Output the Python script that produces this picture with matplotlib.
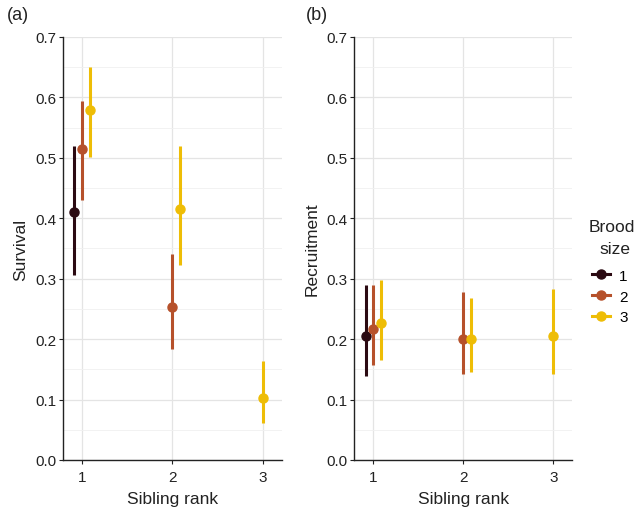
import numpy as np
import matplotlib
matplotlib.use('Agg')
import matplotlib.pyplot as plt
from matplotlib.lines import Line2D

plt.rcParams['font.family'] = ['Liberation Sans', 'DejaVu Sans']

# data: (sibling rank, brood size, estimate, lower, upper)
brood_sizes = [1, 2, 3]
colors = ['#2b0a12', '#b6512b', '#eebd06']
step = 0.085

surv_rank = [1, 1, 1, 2, 2, 3]
surv_brood = [1, 2, 3, 2, 3, 3]
surv_est = [0.410, 0.514, 0.579, 0.254, 0.415, 0.103]
surv_lo = [0.306, 0.430, 0.502, 0.184, 0.322, 0.062]
surv_hi = [0.520, 0.594, 0.650, 0.341, 0.520, 0.163]

recr_rank = [1, 1, 1, 2, 2, 3]
recr_brood = [1, 2, 3, 2, 3, 3]
recr_est = [0.205, 0.217, 0.227, 0.201, 0.201, 0.205]
recr_lo = [0.139, 0.157, 0.165, 0.142, 0.145, 0.142]
recr_hi = [0.290, 0.289, 0.298, 0.278, 0.268, 0.283]

yticks = np.round(np.arange(0, 0.71, 0.1), 1)
yminor = np.round(np.arange(0.05, 0.7, 0.1), 2)

fig = plt.figure(figsize=(6.4, 5.1), dpi=100)
ax_a = fig.add_axes([0.0984, 0.0961, 0.3422, 0.8294])
ax_b = fig.add_axes([0.5536, 0.0961, 0.3404, 0.8294])


def draw_panel(ax, rank, brood, est, lo, hi, ylabel):
    for r in sorted(set(rank)):
        idx = [i for i in range(len(rank)) if rank[i] == r]
        n = len(idx)
        for k, i in enumerate(idx):
            x = r + (k - (n - 1) // 2) * step
            c = colors[brood[i] - 1]
            ax.plot([x, x], [lo[i], hi[i]], color=c, lw=2.2,
                    solid_capstyle='butt', zorder=3)
            ax.plot(x, est[i], 'o', color=c, ms=6.5, zorder=4)
    ax.set_xlim(0.79, 3.21)
    ax.set_ylim(0, 0.7)
    ax.set_xticks([1, 2, 3])
    ax.set_yticks(yticks)
    ax.set_yticks(yminor, minor=True)
    ax.set_yticklabels([f'{v:.1f}' for v in yticks])
    ax.grid(True, which='major', color='#e4e4e4', lw=0.9)
    ax.grid(True, which='minor', axis='y', color='#f0f0f0', lw=0.6)
    ax.set_axisbelow(True)
    for s in ['top', 'right']:
        ax.spines[s].set_visible(False)
    for s in ['left', 'bottom']:
        ax.spines[s].set_color('#222222')
        ax.spines[s].set_linewidth(1.0)
    ax.tick_params(which='major', length=3, width=0.8, color='#222222',
                   labelsize=11, labelcolor='#222222', pad=2)
    ax.tick_params(axis='x', pad=4)
    ax.tick_params(which='minor', length=0)
    ax.set_xlabel('Sibling rank', fontsize=12.5, color='#222222', labelpad=5)
    ax.set_ylabel(ylabel, fontsize=12.5, color='#222222', labelpad=5)


draw_panel(ax_a, surv_rank, surv_brood, surv_est, surv_lo, surv_hi, 'Survival')
draw_panel(ax_b, recr_rank, recr_brood, recr_est, recr_lo, recr_hi, 'Recruitment')

fig.text(7 / 640, 1 - 15 / 510, '(a)', fontsize=13, ha='left', va='center', color='#222222')
fig.text(306 / 640, 1 - 15 / 510, '(b)', fontsize=13, ha='left', va='center', color='#222222')

# legend
fig.text(612 / 640, 1 - 228 / 510, 'Brood', fontsize=12.5, ha='center', va='center', color='#222222')
fig.text(615 / 640, 1 - 249 / 510, 'size', fontsize=12.5, ha='center', va='center', color='#222222')
handles = [Line2D([0], [0], color=c, lw=2.2, marker='o', ms=6.5) for c in colors]
leg = fig.legend(handles, [str(b) for b in brood_sizes],
                 loc='upper left', bbox_to_anchor=(0.915, 0.4833), frameon=False,
                 borderaxespad=0, fontsize=11, handlelength=1.2,
                 handletextpad=0.6, labelspacing=0.45)

fig.savefig('out.png', dpi=100)
